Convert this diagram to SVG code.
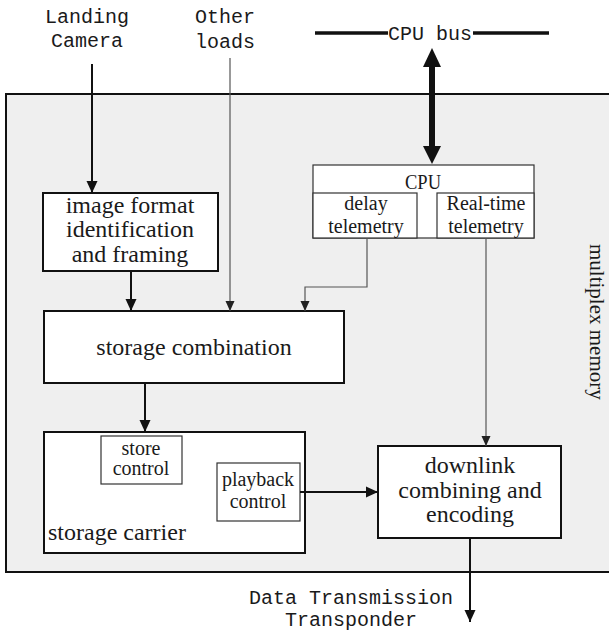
<svg xmlns="http://www.w3.org/2000/svg" width="609" height="633" viewBox="0 0 609 633">
<style>
.box{fill:#fff;stroke:#111;stroke-width:2}
.sbox{fill:#fff;stroke:#333;stroke-width:1.2}
.serif{font-family:"Liberation Serif","Times New Roman",serif;fill:#1a1a1a}
.mono{font-family:"Liberation Mono","Courier New",monospace;fill:#1a1a1a;font-size:20px}
.c{text-anchor:middle}
.blk{stroke:#111;stroke-width:2;fill:none}
.gry{stroke:#555;stroke-width:1.2;fill:none}
</style>
<defs>
<marker id="ah" markerUnits="userSpaceOnUse" markerWidth="12" markerHeight="12" refX="12" refY="6" orient="auto">
<path d="M0,0.5 L12,6 L0,11.5 z" fill="#111"/>
</marker>
<marker id="ahs" markerUnits="userSpaceOnUse" markerWidth="10" markerHeight="10" refX="10" refY="5" orient="auto">
<path d="M0,0.5 L10,5 L0,9.5 z" fill="#222"/>
</marker>
</defs>

<g id="multiplex-memory">
<rect x="6" y="94" width="612" height="478" fill="#efefef" stroke="#111" stroke-width="2"/>
<text class="serif" font-size="21" transform="translate(590,244) rotate(90)">multiplex memory</text>
</g>

<g id="landing-camera">
<text class="mono c" x="87" y="23">Landing</text>
<text class="mono c" x="87" y="47">Camera</text>
</g>
<g id="other-loads">
<text class="mono c" x="225" y="23">Other</text>
<text class="mono c" x="225" y="48">loads</text>
</g>
<g id="cpu-bus">
<line x1="315" y1="33" x2="388" y2="33" stroke="#111" stroke-width="3.5"/>
<line x1="473" y1="33" x2="549" y2="33" stroke="#111" stroke-width="3.5"/>
<text class="mono c" x="430" y="40">CPU bus</text>
</g>

<g id="image-format">
<rect class="box" x="43" y="193" width="175" height="78"/>
<text class="serif c" font-size="24" x="130" y="213">image format</text>
<text class="serif c" font-size="24" x="130" y="237">identification</text>
<text class="serif c" font-size="24" x="130" y="262">and framing</text>
</g>

<g id="cpu">
<rect class="sbox" x="313" y="165" width="221" height="73"/>
<text class="serif c" font-size="21" x="423" y="189" textLength="36" lengthAdjust="spacingAndGlyphs">CPU</text>
</g>
<g id="delay-telemetry">
<rect class="sbox" x="313" y="193" width="104" height="45"/>
<text class="serif c" font-size="20" x="366" y="210">delay</text>
<text class="serif c" font-size="20" x="366" y="233">telemetry</text>
</g>
<g id="realtime-telemetry">
<rect class="sbox" x="437" y="193" width="97" height="45"/>
<text class="serif c" font-size="20" x="486" y="210">Real-time</text>
<text class="serif c" font-size="20" x="486" y="233">telemetry</text>
</g>

<g id="storage-combination">
<rect class="box" x="44" y="311" width="300" height="72"/>
<text class="serif c" font-size="24" x="194" y="355">storage combination</text>
</g>

<g id="storage-carrier">
<rect class="box" x="44" y="432" width="261" height="121"/>
<text class="serif" font-size="24" x="48" y="540">storage carrier</text>
</g>
<g id="store-control">
<rect class="sbox" x="101" y="436" width="81" height="48"/>
<text class="serif c" font-size="20" x="141" y="455">store</text>
<text class="serif c" font-size="20" x="141" y="475">control</text>
</g>
<g id="playback-control">
<rect class="sbox" x="217" y="463" width="83" height="58"/>
<text class="serif c" font-size="20" x="258" y="486">playback</text>
<text class="serif c" font-size="20" x="258" y="508">control</text>
</g>

<g id="downlink">
<rect class="box" x="378" y="446" width="183" height="92"/>
<text class="serif c" font-size="24" x="470" y="473">downlink</text>
<text class="serif c" font-size="24" x="470" y="498">combining and</text>
<text class="serif c" font-size="24" x="470" y="522">encoding</text>
</g>

<g id="transponder">
<text class="mono c" x="351" y="604">Data Transmission</text>
<text class="mono c" x="351" y="626">Transponder</text>
</g>

<g id="connectors">
<line class="blk" x1="92" y1="64" x2="92" y2="193" marker-end="url(#ah)"/>
<line class="gry" x1="230" y1="58" x2="230" y2="311" marker-end="url(#ahs)"/>
<line class="blk" x1="131" y1="271" x2="131" y2="311" marker-end="url(#ah)"/>
<polyline class="gry" points="367,238 367,287 305,287 305,311" marker-end="url(#ahs)"/>
<line class="gry" x1="486" y1="238" x2="486" y2="446" marker-end="url(#ahs)"/>
<line class="blk" x1="145" y1="383" x2="145" y2="432" marker-end="url(#ah)"/>
<line class="blk" x1="300" y1="492" x2="378" y2="492" marker-end="url(#ah)"/>
<line class="blk" x1="470" y1="538" x2="470" y2="622" marker-end="url(#ah)"/>
<g id="cpu-bus-arrow" fill="#111">
<rect x="429" y="65" width="6" height="84"/>
<polygon points="432,48 423,67 441,67"/>
<polygon points="432,164 423,146 441,146"/>
</g>
</g>
</svg>
